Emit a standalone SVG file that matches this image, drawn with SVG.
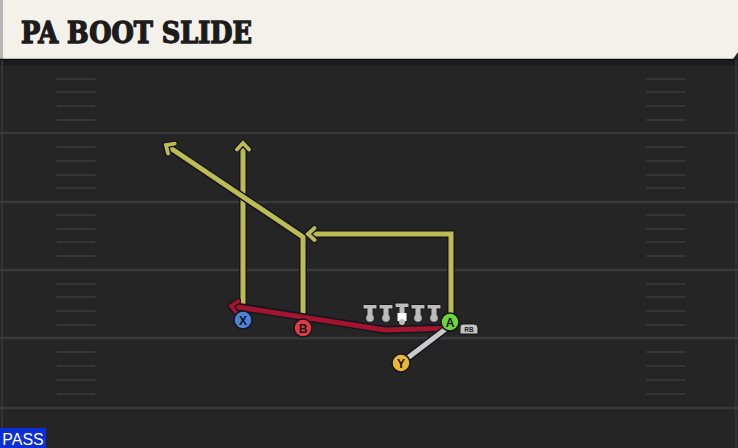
<svg xmlns="http://www.w3.org/2000/svg" width="738" height="448" viewBox="0 0 738 448">
<defs>
<style>
.yard{stroke:#3a3a3a;stroke-width:2.5}
.hash{stroke:#363636;stroke-width:2;stroke-linecap:round}
.rout{fill:none;stroke:#15151f;stroke-width:8;stroke-linejoin:miter}
.yel{fill:none;stroke:#bdbc52;stroke-width:5;stroke-linejoin:miter}
.red{fill:none;stroke:#a3142e;stroke-width:5;stroke-linejoin:round}
.gry{fill:none;stroke:#c9c9c9;stroke-width:5}
.lbl{font-family:"Liberation Sans",Arial,sans-serif;font-weight:bold;font-size:12px;fill:#111;text-anchor:middle}
.ol{fill:#bdbdbd;stroke:#151515;stroke-width:1}
</style>
<marker id="ay" viewBox="-9 -9 18 18" markerWidth="18" markerHeight="18" refX="0" refY="0" orient="auto" markerUnits="userSpaceOnUse">
<path d="M-6.5,-6 L0,0 L-6.5,6" fill="none" stroke="#15151f" stroke-width="6.5" stroke-linecap="round"/>
<path d="M-6.5,-6 L0,0 L-6.5,6" fill="none" stroke="#bdbc52" stroke-width="3.8" stroke-linecap="round"/>
</marker>
<marker id="ar" viewBox="-9 -9 18 18" markerWidth="18" markerHeight="18" refX="0" refY="0" orient="auto" markerUnits="userSpaceOnUse">
<path d="M-6.5,-6 L0,0 L-6.5,6" fill="none" stroke="#15151f" stroke-width="6.5" stroke-linecap="round"/>
<path d="M-6.5,-6 L0,0 L-6.5,6" fill="none" stroke="#a3142e" stroke-width="3.8" stroke-linecap="round"/>
</marker>
</defs>
<rect width="738" height="448" fill="#252525"/>
<rect x="0" y="59" width="738" height="7" fill="#1c1c1c"/>
<line x1="2" y1="60" x2="2" y2="448" stroke="#333" stroke-width="2"/>
<line x1="736" y1="60" x2="736" y2="448" stroke="#333" stroke-width="2"/>
<g id="field">
<line class="yard" x1="0" y1="133" x2="738" y2="133"/>
<line class="yard" x1="0" y1="202" x2="738" y2="202"/>
<line class="yard" x1="0" y1="270" x2="738" y2="270"/>
<line class="yard" x1="0" y1="338" x2="738" y2="338"/>
<line class="yard" x1="0" y1="408" x2="738" y2="408"/>
<g class="hash">
<path d="M57,79H95M57,92H95M57,106H95M57,120H95M57,147H95M57,161H95M57,175H95M57,188H95M57,215H95M57,229H95M57,242H95M57,256H95M57,284H95M57,297H95M57,311H95M57,325H95M57,352H95M57,366H95M57,380H95M57,394H95"/>
<path d="M647,79H685M647,92H685M647,106H685M647,120H685M647,147H685M647,161H685M647,175H685M647,188H685M647,215H685M647,229H685M647,242H685M647,256H685M647,284H685M647,297H685M647,311H685M647,325H685M647,352H685M647,366H685M647,380H685M647,394H685"/>
</g>
</g>
<g id="header">
<path d="M0,0 H738 L738,52 L733,59 H0 Z" fill="#f4f1ea"/>
<rect x="0" y="0" width="3" height="59" fill="#b5b5b5"/>
<line x1="0" y1="59.5" x2="735" y2="59.5" stroke="#0e0e0e" stroke-width="1.5"/>
<text x="21" y="43" font-family="'DejaVu Serif Condensed','DejaVu Serif',serif" font-weight="bold" font-size="29" fill="#1c1c1c" stroke="#1c1c1c" stroke-width="1.3" stroke-linejoin="miter" textLength="231" lengthAdjust="spacingAndGlyphs">PA BOOT SLIDE</text>
</g>
<g id="connectors">
<path class="rout" d="M243,320 V144"/>
<path class="yel" d="M243,320 V143" marker-end="url(#ay)"/>
<path class="rout" d="M303,328 V237 L167,146"/>
<path class="yel" d="M303,328 V237 L166,145" marker-end="url(#ay)"/>
<path class="rout" d="M451,322 V234 H310"/>
<path class="yel" d="M451,322 V234 H308" marker-end="url(#ay)"/>
<path class="rout" d="M453,328 L385,330 L233,306"/>
<path class="red" d="M453,328 L385,330 L231,306" marker-end="url(#ar)"/>
<path class="rout" d="M401,363 L447,328"/>
<path class="gry" d="M401,363 L447,328"/>
</g>
<g id="line">
<g id="lt"><rect class="ol" x="363" y="304.5" width="14" height="4.5" rx="1.2"/><rect x="367.5" y="308" width="5" height="9" fill="#bdbdbd"/><circle cx="370" cy="318" r="3.8" fill="#bdbdbd"/></g>
<g id="lg"><rect class="ol" x="379" y="304.5" width="14" height="4.5" rx="1.2"/><rect x="383.5" y="308" width="5" height="9" fill="#bdbdbd"/><circle cx="386" cy="318" r="3.8" fill="#bdbdbd"/></g>
<g id="c"><rect class="ol" x="395" y="303" width="14" height="4.5" rx="1.2"/><rect x="399.5" y="306" width="5" height="11" fill="#bdbdbd"/><rect x="397.5" y="313" width="9" height="8" fill="#ffffff"/><circle cx="402" cy="322" r="3" fill="#bdbdbd"/></g>
<g id="rg"><rect class="ol" x="411" y="304.5" width="14" height="4.5" rx="1.2"/><rect x="415.5" y="308" width="5" height="9" fill="#bdbdbd"/><circle cx="418" cy="318" r="3.8" fill="#bdbdbd"/></g>
<g id="rt"><rect class="ol" x="427" y="304.5" width="14" height="4.5" rx="1.2"/><rect x="431.5" y="308" width="5" height="9" fill="#bdbdbd"/><circle cx="434" cy="318" r="3.8" fill="#bdbdbd"/></g>
</g>
<g id="rb">
<path d="M463,324 H474 Q478,324 478,328 V334 H460 V327 Q460,324 463,324 Z" fill="#c4c4c4" stroke="#151515" stroke-width="1"/>
<text x="469" y="332" font-family="'Liberation Sans',Arial,sans-serif" font-size="6.5" font-weight="bold" fill="#222" text-anchor="middle">RB</text>
</g>
<g id="X"><circle cx="243" cy="320" r="9" fill="#4a84dc" stroke="#15151f" stroke-width="1.5"/><text class="lbl" x="243" y="324.5">X</text></g>
<g id="B"><circle cx="303" cy="328" r="9" fill="#e03a48" stroke="#15151f" stroke-width="1.5"/><text class="lbl" x="303" y="332.5">B</text></g>
<g id="A"><circle cx="450" cy="322" r="9" fill="#6fd43c" stroke="#15151f" stroke-width="1.5"/><text class="lbl" x="450" y="326.5">A</text></g>
<g id="Y"><circle cx="401" cy="363" r="9" fill="#eab830" stroke="#15151f" stroke-width="1.5"/><text class="lbl" x="401" y="367.5">Y</text></g>
<g id="pass">
<rect x="0" y="428" width="46" height="20" fill="#0a2fd6"/>
<text x="23" y="444.5" font-family="'Liberation Sans',Arial,sans-serif" font-size="16" fill="#ffffff" text-anchor="middle">PASS</text>
</g>
</svg>
